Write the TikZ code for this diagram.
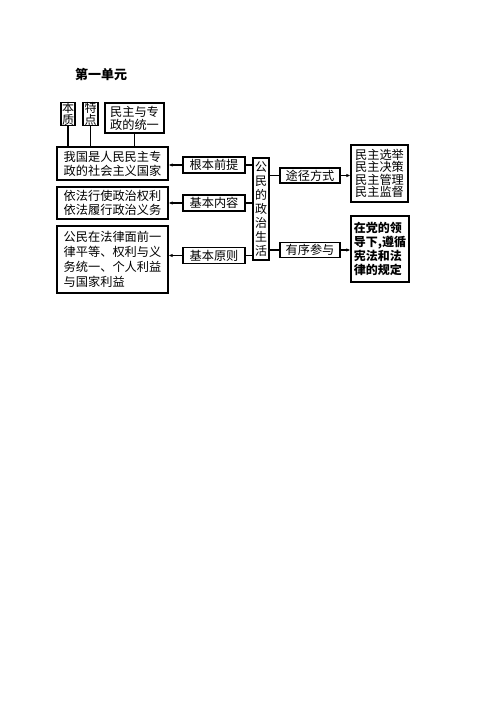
\documentclass[tikz,border=0pt]{standalone}
\usepackage{fontspec}
\setmainfont{Noto Sans CJK SC}
\usetikzlibrary{arrows.meta}
\begin{document}
\begin{tikzpicture}[x=1pt,y=-1pt,
  box/.style={draw,line width=1.1pt,inner sep=0pt,align=left,font=\fontsize{12.2}{14}\selectfont},
  lbl/.style={draw,line width=1.1pt,inner sep=0pt,minimum width=62pt,minimum height=16pt,font=\fontsize{12.2}{14}\selectfont},
  con/.style={line width=1.1pt},
  arr/.style={line width=1.1pt,-{Latex[length=4pt,width=3.4pt]}}]
\useasboundingbox (0,0) rectangle (496,702);
\node[font=\bfseries\fontsize{13}{14}\selectfont] (title) at (101,74) {第一单元};
% top boxes
\node[box,minimum width=14pt,minimum height=23pt,align=center,font=\fontsize{12}{11.5}\selectfont] (bz) at (68,114) {本\\质};
\node[box,minimum width=15pt,minimum height=23pt,align=center,font=\fontsize{12}{11.5}\selectfont] (td) at (90.5,114) {特\\点};
\node[box,minimum width=59pt,minimum height=30pt,align=left,font=\fontsize{12.2}{13}\selectfont] (mz) at (134.5,118) {民主与专\\政的统一};
% left boxes
\node[box,minimum width=111pt,minimum height=33pt] (b1) at (112.5,163.5) {我国是人民民主专\\政的社会主义国家};
\node[box,minimum width=111pt,minimum height=32pt] (b2) at (112.5,203) {依法行使政治权利\\依法履行政治义务};
\node[box,minimum width=111pt,minimum height=67pt,font=\fontsize{12.2}{15}\selectfont] (b3) at (112.5,259.5) {公民在法律面前一\\律平等、权利与义\\务统一、个人利益\\与国家利益\hphantom{一一一}};
% label boxes
\node[lbl] (l1) at (214,165) {根本前提};
\node[lbl] (l2) at (214,203) {基本内容};
\node[lbl] (l3) at (214,255.5) {基本原则};
% central box
\node[box,minimum width=16pt,minimum height=102pt,align=center,font=\fontsize{12}{14}\selectfont] (c) at (261,209) {公\\民\\的\\政\\治\\生\\活};
% right labels
\node[lbl,minimum width=60pt,minimum height=15pt] (r1) at (310,175.5) {途径方式};
\node[lbl,minimum width=60pt,minimum height=15pt] (r2) at (310,250) {有序参与};
% right boxes
\node[box,minimum width=57pt,minimum height=57pt,align=center,font=\fontsize{12.2}{12.3}\selectfont] (rb1) at (379.5,173.5) {民主选举\\民主决策\\民主管理\\民主监督};
\node[box,minimum width=58pt,minimum height=66pt,align=left,font=\bfseries\fontsize{12}{14}\selectfont] (rb2) at (380,249) {在党的领\\导下,遵循\\宪法和法\\律的规定};
% connectors top
\draw[con] (bz.south) -- (bz.south |- b1.north);
\draw[con] (td.south) -- (td.south |- b1.north);
\draw[con] (mz.south) -- (mz.south |- b1.north);
% left connectors
\draw[con] (c.west |- l1.east) -- (l1.east);
\draw[arr] (l1.west) -- (l1.west -| b1.east);
\draw[con] (c.west |- l2.east) -- (l2.east);
\draw[arr] (l2.west) -- (l2.west -| b2.east);
\draw[con] (c.west |- l3.east) -- (l3.east);
\draw[arr] (l3.west) -- (l3.west -| b3.east);
% right connectors
\draw[con] (c.east |- r1.west) -- (r1.west);
\draw[arr] (r1.east) -- (r1.east -| rb1.west);
\draw[con] (c.east |- r2.west) -- (r2.west);
\draw[arr] (r2.east) -- (r2.east -| rb2.west);
\end{tikzpicture}
\end{document}
